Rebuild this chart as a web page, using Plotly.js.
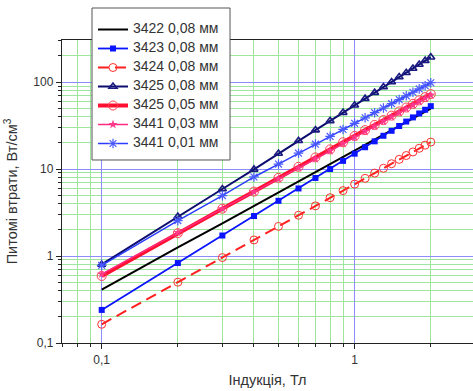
<!DOCTYPE html>
<html>
<head>
<meta charset="utf-8">
<script src="https://cdn.plot.ly/plotly-3.0.1.min.js"></script>
<style>
html,body{margin:0;padding:0;background:#fff;}
#chart{width:473px;height:391px;}
</style>
</head>
<body>
<div id="chart"></div>
<script>
// Induction, T
const induction = [0.1,0.2,0.3,0.4,0.5,0.6,0.7,0.8,0.9,1.0,1.1,1.2,1.3,1.4,1.5,1.6,1.7,1.8,1.9,2.0];

// Specific losses, W/cm^3
const s3422_008 = [0.41,1.26,2.37,3.76,5.38,7.20,9.21,11.4,13.8,16.3,19.0,21.8,24.8,27.9,31.2,34.6,38.1,41.7,45.5,49.4];
const s3423_008 = [0.24,0.83,1.72,2.88,4.31,5.98,7.89,10.0,12.4,15.0,17.8,20.8,24.1,27.5,31.2,35.1,39.2,43.5,48.0,52.8];
const s3424_008 = [0.164,0.50,0.96,1.53,2.19,2.94,3.77,4.68,5.65,6.7,7.81,8.98,10.2,11.5,12.9,14.3,15.7,17.3,18.8,20.4];
const s3425_008 = [0.80,2.85,5.89,9.9,15.1,21.1,28.0,35.8,44.5,54.0,64.4,75.5,87.5,100,114,128,143,159,176,193];
const s3425_005 = [0.59,1.83,3.50,5.50,7.92,10.6,13.6,16.8,20.3,24.0,28.0,32.1,36.5,41.1,45.9,50.9,56.1,61.5,67.0,72.7];
const s3441_003 = [0.62,1.86,3.50,5.45,7.7,10.3,13.1,16.2,19.6,23.2,27.0,31.0,35.3,39.7,44.4,49.3,54.4,59.7,65.2,70.8];
const s3441_001 = [0.78,2.55,4.95,8.1,11.4,15.2,19.3,23.7,28.5,33.5,38.8,44.4,50.3,56.4,62.8,69.4,76.3,83.3,90.6,98.1];

const names = ['3422 0,08 мм','3423 0,08 мм','3424 0,08 мм','3425 0,08 мм','3425 0,05 мм','3441 0,03 мм','3441 0,01 мм'];

const xTickVals = [0.1, 1];
const xTickText = ['0,1', '1'];
const yTickVals = [0.1, 1, 10, 100];
const yTickText = ['0,1', '1', '10', '100'];
const xMinorVals = [0.07,0.08,0.09,0.2,0.3,0.4,0.5,0.6,0.7,0.8,0.9,2,3];
const yMinorVals = [0.2,0.3,0.4,0.5,0.6,0.7,0.8,0.9,2,3,4,5,6,7,8,9,20,30,40,50,60,70,80,90,200,300];

function lbl(s) { return '<span style="font-size:14px">' + s + '</span>'; }

const traces = [
  {x: induction, y: s3422_008, name: lbl(names[0]), mode: 'lines',
   line: {color: '#000000', width: 2}},
  {x: induction, y: s3423_008, name: lbl(names[1]), mode: 'lines+markers',
   line: {color: '#0a14ff', width: 1.8},
   marker: {symbol: 'square', size: 6, color: '#0a14ff'}},
  {x: induction, y: s3424_008, name: lbl(names[2]), mode: 'lines+markers',
   line: {color: '#ff2020', width: 2, dash: '11px,6px'},
   marker: {symbol: 'circle-open', size: 8, color: '#ff3030', line: {width: 1}}},
  {x: induction, y: s3425_008, name: lbl(names[3]), mode: 'lines+markers',
   line: {color: '#0d0d70', width: 2},
   marker: {symbol: 'triangle-up-open', size: 7, color: '#1a1a80', line: {width: 1.6}}},
  {x: induction, y: s3425_005, name: lbl(names[4]), mode: 'lines+markers',
   line: {color: '#ff1030', width: 4},
   marker: {symbol: 'circle-open', size: 9, color: '#ff4050', line: {width: 1}}},
  {x: induction, y: s3441_003, name: lbl(names[5]), mode: 'lines+markers',
   line: {color: '#ff2a80', width: 1.5},
   marker: {symbol: 'star', size: 7, color: '#ff3a8a'}},
  {x: induction, y: s3441_001, name: lbl(names[6]), mode: 'lines+markers',
   line: {color: '#2a3cff', width: 1.5},
   marker: {symbol: 'asterisk-open', size: 8, color: '#4a5aff', line: {width: 1.2, color: '#4a5aff'}}}
];

const layout = {
  width: 473, height: 391,
  margin: {l: 62, r: 0, t: 40, b: 48, pad: 0},
  paper_bgcolor: '#ffffff', plot_bgcolor: '#ffffff',
  font: {family: 'Liberation Sans, Arial, sans-serif', size: 12, color: '#333333'},
  showlegend: true,
  legend: {
    x: 0.0754, y: 1.0825, xanchor: 'left', yanchor: 'top',
    bgcolor: 'rgba(0,0,0,0)', borderwidth: 0,
    font: {size: 9.5, color: '#333333'},
    tracegroupgap: 0, itemwidth: 30
  },
  shapes: [
    {type: 'rect', xref: 'paper', yref: 'paper', layer: 'above',
     x0: 0.073, x1: 0.4088, y0: 0.604, y1: 1.1056,
     fillcolor: '#ffffff', line: {color: '#555555', width: 1}}
  ],
  xaxis: {
    type: 'log', range: [-1.157, 0.468],
    tickmode: 'array', tickvals: xTickVals, ticktext: xTickText,
    ticks: 'outside', ticklen: 5, tickcolor: '#222', tickwidth: 1,
    showline: true, linecolor: '#222', linewidth: 1.2, mirror: true,
    showgrid: true, gridcolor: '#8c8cff', gridwidth: 1,
    zeroline: false,
    minor: {tickmode: 'array', tickvals: xMinorVals, ticks: 'outside', ticklen: 3,
            tickcolor: '#222', showgrid: true, gridcolor: '#9ee59e', gridwidth: 1},
    title: {text: 'Індукція, Тл', font: {size: 14.5, color: '#333'}, standoff: 9}
  },
  yaxis: {
    type: 'log', range: [-1, 2.483],
    tickmode: 'array', tickvals: yTickVals, ticktext: yTickText,
    ticks: 'outside', ticklen: 5, tickcolor: '#222', tickwidth: 1,
    showline: true, linecolor: '#222', linewidth: 1.2, mirror: false,
    showgrid: true, gridcolor: '#8c8cff', gridwidth: 1,
    zeroline: false,
    minor: {tickmode: 'array', tickvals: yMinorVals, ticks: 'outside', ticklen: 3,
            tickcolor: '#222', showgrid: true, gridcolor: '#9ee59e', gridwidth: 1},
    title: {text: 'Питомі втрати, Вт/см<sup>3</sup>', font: {size: 14.5, color: '#333'}, standoff: 12}
  }
};

Plotly.newPlot('chart', traces, layout, {displayModeBar: false, staticPlot: true});
</script>
</body>
</html>
